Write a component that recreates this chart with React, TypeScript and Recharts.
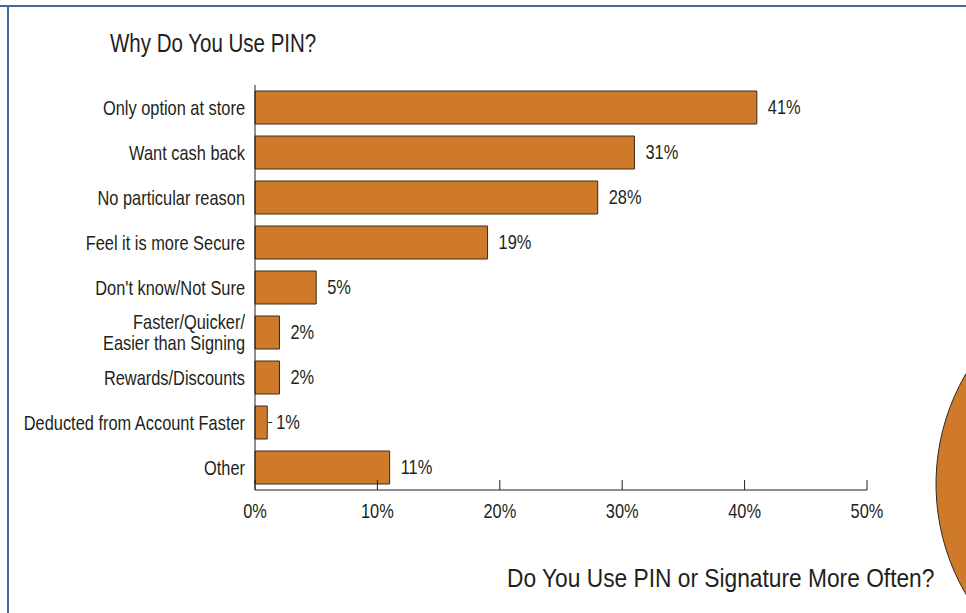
import { BarChart, Bar, XAxis, YAxis, LabelList, PieChart, Pie, Cell } from 'recharts'

const FONT = '"Liberation Sans", Arial, sans-serif'
const SQUEEZE = 0.82 // condensed look
const INK = '#231f20'

// Reasons for using PIN (share of respondents, %)
const reasons = [
  'Only option at store',
  'Want cash back',
  'No particular reason',
  'Feel it is more Secure',
  "Don't know/Not Sure",
  'Faster/Quicker/\nEasier than Signing',
  'Rewards/Discounts',
  'Deducted from Account Faster',
  'Other',
]
const shares = [41, 31, 28, 19, 5, 2, 2, 1, 11]
const shareTicks = [0, 10, 20, 30, 40, 50]

// PIN vs signature pie (mostly off the right edge)
const methods = ['PIN', 'Signature']
const methodShares = [56, 44]
const methodColors = ['#cf7a2a', '#8c8f3a']

const barData = reasons.map((reason, i) => ({ reason, share: shares[i] }))
const pieData = methods.map((name, i) => ({ name, value: methodShares[i] }))

function NarrowText({ x, y, anchor, children }: any) {
  return (
    <text
      transform={`translate(${x},${y}) scale(${SQUEEZE},1)`}
      textAnchor={anchor}
      fill={INK}
      fontSize={20}
      fontFamily={FONT}
      dy="0.35em"
    >
      {children}
    </text>
  )
}

function ReasonTick({ x, y, payload }: any) {
  const lines = String(payload.value).split('\n')
  const lh = 21
  const y0 = y - ((lines.length - 1) * lh) / 2
  return (
    <g>
      {lines.map((l, i) => (
        <NarrowText key={i} x={x} y={y0 + i * lh} anchor="end">
          {l}
        </NarrowText>
      ))}
    </g>
  )
}

// ticks point up into the plot, labels sit below the axis line
function ShareTick({ x, y, payload }: any) {
  return (
    <g>
      <line x1={x} x2={x} y1={y - 10} y2={y} stroke={INK} strokeWidth={1} />
      <NarrowText x={x} y={y + 21} anchor="middle">
        {`${payload.value}%`}
      </NarrowText>
    </g>
  )
}

// value after the bar; very short bars get a small leader dash
function ShareLabel({ x, y, width, height, value }: any) {
  const end = x + width
  const mid = y + height / 2
  const short = width < 20
  return (
    <g>
      {short && <line x1={end + 1} x2={end + 5} y1={mid} y2={mid} stroke={INK} strokeWidth={1} />}
      <NarrowText x={end + (short ? 9 : 11)} y={mid - 1} anchor="start">
        {`${value}%`}
      </NarrowText>
    </g>
  )
}

const headStyle = {
  position: 'absolute' as const,
  fontSize: 25,
  color: INK,
  lineHeight: '30px',
  whiteSpace: 'nowrap' as const,
  transformOrigin: 'left center',
}

export default function App() {
  return (
    <div
      style={{
        position: 'absolute',
        left: 0,
        top: 0,
        width: 966,
        height: 613,
        overflow: 'hidden',
        background: '#fff',
        fontFamily: FONT,
      }}
    >
      <div style={{ position: 'absolute', left: 0, top: 5, width: 966, height: 2, background: '#3f6e9c' }} />
      <div style={{ position: 'absolute', left: 7, top: 5, width: 2, height: 608, background: '#3f6e9c' }} />

      <div style={{ ...headStyle, left: 110, top: 28, transform: `scaleX(${SQUEEZE})` }}>Why Do You Use PIN?</div>

      <div style={{ position: 'absolute', left: 0, top: 0 }}>
        <BarChart
          width={966}
          height={613}
          layout="vertical"
          data={barData}
          margin={{ top: 85, right: 99, left: 0, bottom: 83 }}
        >
          <XAxis
            type="number"
            dataKey="share"
            domain={[0, 50]}
            ticks={shareTicks}
            height={40}
            axisLine={{ stroke: INK, strokeWidth: 1 }}
            tickLine={false}
            tickSize={0}
            tickMargin={0}
            tick={<ShareTick />}
            interval={0}
          />
          <YAxis
            type="category"
            dataKey="reason"
            width={255}
            axisLine={{ stroke: INK, strokeWidth: 1 }}
            tickLine={false}
            tickSize={0}
            tickMargin={10}
            tick={<ReasonTick />}
            interval={0}
          />
          <Bar dataKey="share" fill="#cf7a2a" stroke="#3a2a1c" strokeWidth={1} barSize={33} isAnimationActive={false}>
            <LabelList dataKey="share" content={<ShareLabel />} />
          </Bar>
        </BarChart>
      </div>

      <div style={{ position: 'absolute', left: 900, top: 229 }}>
        <PieChart width={500} height={500}>
          <Pie
            data={pieData}
            dataKey="value"
            cx={249}
            cy={250}
            outerRadius={218}
            startAngle={150}
            endAngle={510}
            stroke="#2b2b2b"
            strokeWidth={1}
            isAnimationActive={false}
          >
            {pieData.map((d, i) => (
              <Cell key={d.name} fill={methodColors[i]} />
            ))}
          </Pie>
        </PieChart>
      </div>

      <div style={{ ...headStyle, left: 507, top: 563, transform: 'scaleX(0.91)' }}>
        Do You Use PIN or Signature More Often?
      </div>
    </div>
  )
}
